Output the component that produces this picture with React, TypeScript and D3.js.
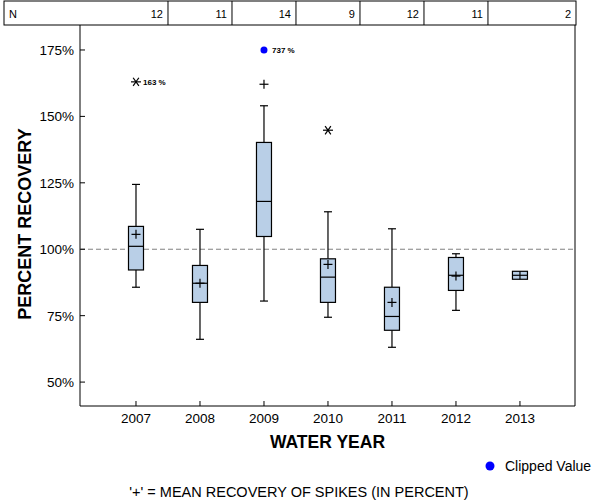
import React from "react";
import * as d3 from "d3";

const years = [2007, 2008, 2009, 2010, 2011, 2012, 2013];
const nCounts = [12, 11, 14, 9, 12, 11, 2];
const whiskerLow: (number | null)[] = [85.7, 66.1, 80.5, 74.4, 63.1, 77, null];
const q1 = [92.2, 80, 104.8, 80, 69.5, 84.5, 88.7];
const median = [101.1, 87.2, 118, 89.5, 74.7, 90.2, 90.2];
const q3 = [108.6, 93.9, 140.2, 96.4, 85.7, 96.9, 91.7];
const whiskerHigh: (number | null)[] = [124.4, 107.5, 154, 114.1, 107.7, 98.3, null];
const means = [105.6, 87.2, 162.1, 94.3, 80, 89.9, 90.2];
const outlierYears = [2007, 2010];
const outlierValues = [163, 144.8];
const outlierLabels = ["163 %", ""];
const clippedYears = [2009];
const clippedLabels = ["737 %"];
const yTicks = [50, 75, 100, 125, 150, 175];

const W = 600;
const H = 500;
const left = 80, right = 575, top = 25, bottom = 406;
const font = "'Liberation Sans', Arial, Helvetica, sans-serif";

export default function App() {
  const x = d3.scaleLinear().domain([2006.125, 2013.86]).range([left, right]);
  const y = d3.scaleLinear().domain([41, 184.4]).range([bottom, top]);
  const boxW = 15;
  const capW = 8;
  const plusW = 9;

  const bounds = [4, ...years.slice(0, -1).map((yr) => x(yr + 0.5)), 576];

  const asterisk = (cx: number, cy: number, r: number, key: string) => {
    const angles = [0, 55, -55];
    return (
      <g key={key} stroke="#000" strokeWidth={1.2}>
        {angles.map((a) => {
          const rad = (a * Math.PI) / 180;
          const dx = Math.cos(rad) * r;
          const dy = Math.sin(rad) * r;
          return <line key={a} x1={cx - dx} y1={cy - dy} x2={cx + dx} y2={cy + dy} />;
        })}
      </g>
    );
  };

  return (
    <svg width={W} height={H} style={{ position: "absolute", left: 0, top: 0, background: "#fff" }} fontFamily={font}>
      <rect x={4} y={1} width={572} height={24} fill="none" stroke="#000" strokeWidth={1} />
      {bounds.slice(1, -1).map((b, i) => (
        <line key={"tb" + i} x1={b} x2={b} y1={1} y2={25} stroke="#000" />
      ))}
      <text x={9} y={18} fontSize={11} fill="#000">N</text>
      {nCounts.map((n, i) => (
        <text key={"n" + i} x={bounds[i + 1] - 5} y={18} fontSize={11} textAnchor="end" fill="#000">
          {n}
        </text>
      ))}

      <line x1={left} x2={left} y1={top} y2={bottom} stroke="#000" />
      <line x1={left} x2={right} y1={bottom} y2={bottom} stroke="#000" />
      <line x1={right} x2={right} y1={top} y2={bottom} stroke="#000" />

      <line x1={left} x2={right} y1={y(100)} y2={y(100)} stroke="#808080" strokeDasharray="5,3" />

      {yTicks.map((t) => (
        <g key={"yt" + t}>
          <line x1={left} x2={left + 5} y1={y(t)} y2={y(t)} stroke="#000" />
          <text x={left - 6} y={y(t) + 5} fontSize={13.5} textAnchor="end" fill="#000">
            {t}%
          </text>
        </g>
      ))}

      {years.map((yr) => (
        <g key={"xt" + yr}>
          <line x1={x(yr)} x2={x(yr)} y1={bottom} y2={bottom - 5} stroke="#000" />
          <text x={x(yr)} y={bottom + 17} fontSize={13.5} textAnchor="middle" fill="#000">
            {yr}
          </text>
        </g>
      ))}

      {years.map((yr, i) => {
        const cx = x(yr);
        const lo = whiskerLow[i];
        const hi = whiskerHigh[i];
        return (
          <g key={"box" + yr} stroke="#000" strokeWidth={1.2}>
            {hi !== null && (
              <>
                <line x1={cx} x2={cx} y1={y(q3[i])} y2={y(hi)} />
                <line x1={cx - capW / 2} x2={cx + capW / 2} y1={y(hi)} y2={y(hi)} />
              </>
            )}
            {lo !== null && (
              <>
                <line x1={cx} x2={cx} y1={y(q1[i])} y2={y(lo)} />
                <line x1={cx - capW / 2} x2={cx + capW / 2} y1={y(lo)} y2={y(lo)} />
              </>
            )}
            <rect
              x={cx - boxW / 2}
              y={y(q3[i])}
              width={boxW}
              height={y(q1[i]) - y(q3[i])}
              fill="#b9cfe7"
            />
            <line x1={cx - boxW / 2} x2={cx + boxW / 2} y1={y(median[i])} y2={y(median[i])} />
            {years[i] === 2013 ? (
              <line x1={cx} x2={cx} y1={y(q3[i])} y2={y(q1[i])} />
            ) : (
              <>
                <line x1={cx - plusW / 2} x2={cx + plusW / 2} y1={y(means[i])} y2={y(means[i])} />
                <line x1={cx} x2={cx} y1={y(means[i]) - plusW / 2} y2={y(means[i]) + plusW / 2} />
              </>
            )}
          </g>
        );
      })}

      {outlierYears.map((yr, i) => (
        <g key={"out" + i}>
          {asterisk(x(yr), y(outlierValues[i]), 5, "a" + i)}
          {outlierLabels[i] && (
            <text x={x(yr) + 7} y={y(outlierValues[i]) + 3} fontSize={8} fontWeight="bold" fill="#000">
              {outlierLabels[i]}
            </text>
          )}
        </g>
      ))}

      {clippedYears.map((yr, i) => (
        <g key={"clip" + i}>
          <circle cx={x(yr)} cy={y(175)} r={3.5} fill="#0000ff" />
          <text x={x(yr) + 8} y={y(175) + 3} fontSize={8} fontWeight="bold" fill="#000">
            {clippedLabels[i]}
          </text>
        </g>
      ))}

      <text x={(left + right) / 2} y={448} fontSize={17.5} fontWeight="bold" textAnchor="middle" fill="#000">
        WATER YEAR
      </text>
      <text
        transform={`translate(31, 224) rotate(-90)`}
        fontSize={18}
        fontWeight="bold"
        textAnchor="middle"
        fill="#000"
      >
        PERCENT RECOVERY
      </text>

      <circle cx={490} cy={466} r={4.5} fill="#0000ff" />
      <text x={505} y={471} fontSize={14} fill="#000">Clipped Value</text>

      <text x={299} y={497} fontSize={14.5} textAnchor="middle" fill="#000">
        '+' = MEAN RECOVERY OF SPIKES (IN PERCENT)
      </text>
    </svg>
  );
}
